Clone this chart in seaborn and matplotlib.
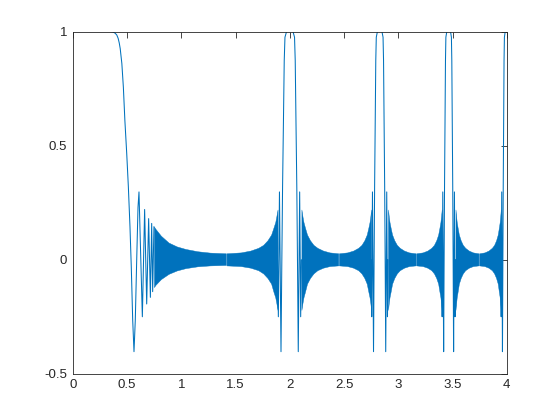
import matplotlib
matplotlib.use("Agg")
import matplotlib.pyplot as plt
import numpy as np
import pandas as pd
import seaborn as sns

BLUE = "#0072BD"
AXC = "#262626"

# ---- x / y ticks ----
x_ticks = [0, 0.5, 1, 1.5, 2, 2.5, 3, 3.5, 4]
x_tick_labels = ["0", "0.5", "1", "1.5", "2", "2.5", "3", "3.5", "4"]
y_ticks = [-0.5, 0, 0.5, 1]
y_tick_labels = ["-0.5", "0", "0.5", "1"]

# ---- main lobe at x = 0 and the first visible oscillations ----
lobe0_x = [0.0, 0.343, 0.370, 0.389, 0.405, 0.418, 0.428, 0.437, 0.445, 0.452,
           0.466, 0.480, 0.497, 0.512, 0.527, 0.539, 0.552, 0.564, 0.576, 0.589,
           0.601, 0.610, 0.641, 0.662, 0.681, 0.699, 0.715, 0.727, 0.736, 0.748]
lobe0_y = [1.0, 1.0, 0.998, 0.993, 0.985, 0.97, 0.95, 0.925, 0.89, 0.86,
           0.756, 0.61, 0.465, 0.32, 0.144, -0.031, -0.264, -0.403, -0.264, 0.0,
           0.23, 0.297, -0.25, 0.22, -0.194, 0.18, -0.165, 0.159, -0.14, 0.145]

# ---- shape of the narrow lobes at x = 2, 2.83, 3.46 (y values) ----
lobe_y = [0.0, -0.25, 0.297, -0.403, -0.031, 0.32, 0.61, 0.873, 0.975, 1.0, 1.0,
          1.0, 0.975, 0.873, 0.61, 0.32, -0.031, -0.403, 0.297, -0.25, 0.0]
lobe1_x = [1.8868, 1.8945, 1.9047, 1.9189, 1.9260, 1.9334, 1.9415, 1.9487, 1.9554, 1.9704, 2.0,
           2.0292, 2.0436, 2.0500, 2.0568, 2.0645, 2.0713, 2.0780, 2.0909, 2.1002, 2.1071]
lobe2_x = [2.7495, 2.7549, 2.7619, 2.7716, 2.7766, 2.7817, 2.7874, 2.7924, 2.7971, 2.8076, 2.8284,
           2.8491, 2.8594, 2.8640, 2.8689, 2.8744, 2.8793, 2.8841, 2.8934, 2.9001, 2.9052]
lobe3_x = [3.4000, 3.4043, 3.4100, 3.4179, 3.4219, 3.4261, 3.4307, 3.4348, 3.4385, 3.4471, 3.4641,
           3.4810, 3.4895, 3.4932, 3.4972, 3.5017, 3.5058, 3.5097, 3.5174, 3.5229, 3.5270]
lobe4_x = [3.9446, 3.9483, 3.9532, 3.9600, 3.9635, 3.9671, 3.9711, 3.9746, 3.9780, 3.9853, 4.0]
lobe4_y = [0.0, -0.25, 0.297, -0.403, -0.031, 0.32, 0.61, 0.873, 0.975, 1.0, 1.0]

# ---- envelope of the dense oscillation band ----
# values going away from a lobe towards the mid-point notch
env_up = [0.22, 0.19, 0.165, 0.14, 0.11, 0.085, 0.065, 0.052, 0.040, 0.032, 0.028]
env_lo = [-0.22, -0.19, -0.165, -0.14, -0.105, -0.08, -0.06, -0.046, -0.035, -0.028, -0.025]

# segment between x=0 lobe and x=2 lobe
bandA_left_x = [0.748, 0.762, 0.812, 0.883, 0.959, 1.039, 1.149, 1.265, 1.411]
bandA_left_up = [0.145, 0.135, 0.105, 0.075, 0.058, 0.047, 0.037, 0.031, 0.028]
bandA_left_lo = [-0.12, -0.11, -0.085, -0.062, -0.047, -0.037, -0.029, -0.025, -0.023]
bandA_right_x = [1.417, 1.549, 1.637, 1.709, 1.755, 1.794, 1.828, 1.849, 1.866, 1.876, 1.887]

bandB_left_x = [2.1071, 2.1166, 2.1260, 2.1401, 2.1587, 2.1863, 2.2181, 2.2539, 2.3065, 2.3664, 2.4465]
bandB_right_x = [2.4525, 2.5298, 2.5846, 2.6306, 2.6608, 2.6870, 2.7092, 2.7240, 2.7350, 2.7423, 2.7495]

bandC_left_x = [2.9052, 2.9120, 2.9189, 2.9292, 2.9428, 2.9631, 2.9866, 3.0133, 3.0529, 3.0984, 3.1593]
bandC_right_x = [3.1653, 3.2249, 3.2680, 3.3045, 3.3287, 3.3496, 3.3675, 3.3793, 3.3882, 3.3941, 3.4000]

bandD_left_x = [3.5270, 3.5327, 3.5384, 3.5468, 3.5581, 3.5749, 3.5944, 3.6166, 3.6497, 3.6878, 3.7387]
bandD_right_x = [3.7447, 3.7947, 3.8315, 3.8626, 3.8833, 3.9013, 3.9166, 3.9268, 3.9345, 3.9395, 3.9446]

# ---------------------------------------------------------------------------
sns.set_theme(style="white")
plt.rcParams["font.family"] = ["Liberation Sans", "DejaVu Sans"]

fig = plt.figure(figsize=(5.6, 4.2), dpi=100)
ax = fig.add_axes([0.13, 0.11, 0.775, 0.815])

# dense bands
bands = [
    (bandA_left_x, bandA_left_up, bandA_left_lo),
    (bandA_right_x, env_up[::-1], env_lo[::-1]),
    (bandB_left_x, env_up, env_lo),
    (bandB_right_x, env_up[::-1], env_lo[::-1]),
    (bandC_left_x, env_up, env_lo),
    (bandC_right_x, env_up[::-1], env_lo[::-1]),
    (bandD_left_x, env_up, env_lo),
    (bandD_right_x, env_up[::-1], env_lo[::-1]),
]
for bx, bu, bl in bands:
    ax.fill_between(bx, bl, bu, color=BLUE, linewidth=0.3, edgecolor=BLUE)

# lines
line_sets = [
    (lobe0_x, lobe0_y),
    (lobe1_x, lobe_y),
    (lobe2_x, lobe_y),
    (lobe3_x, lobe_y),
    (lobe4_x, lobe4_y),
]
for lx, ly in line_sets:
    sns.lineplot(x=lx, y=ly, ax=ax, sort=False, estimator=None,
                 color=BLUE, linewidth=0.75)

ax.set_xlim(0, 4)
ax.set_ylim(-0.5, 1)
ax.set_xticks(x_ticks)
ax.set_xticklabels(x_tick_labels)
ax.set_yticks(y_ticks)
ax.set_yticklabels(y_tick_labels)
ax.tick_params(direction="in", length=4, width=0.6, colors=AXC, labelsize=9.5,
               top=True, right=True, labelcolor=AXC, pad=4)
for s in ax.spines.values():
    s.set_visible(True)
    s.set_color(AXC)
    s.set_linewidth(0.6)
ax.set_xlabel("")
ax.set_ylabel("")
ax.grid(False)

fig.savefig("out.png", dpi=100)
